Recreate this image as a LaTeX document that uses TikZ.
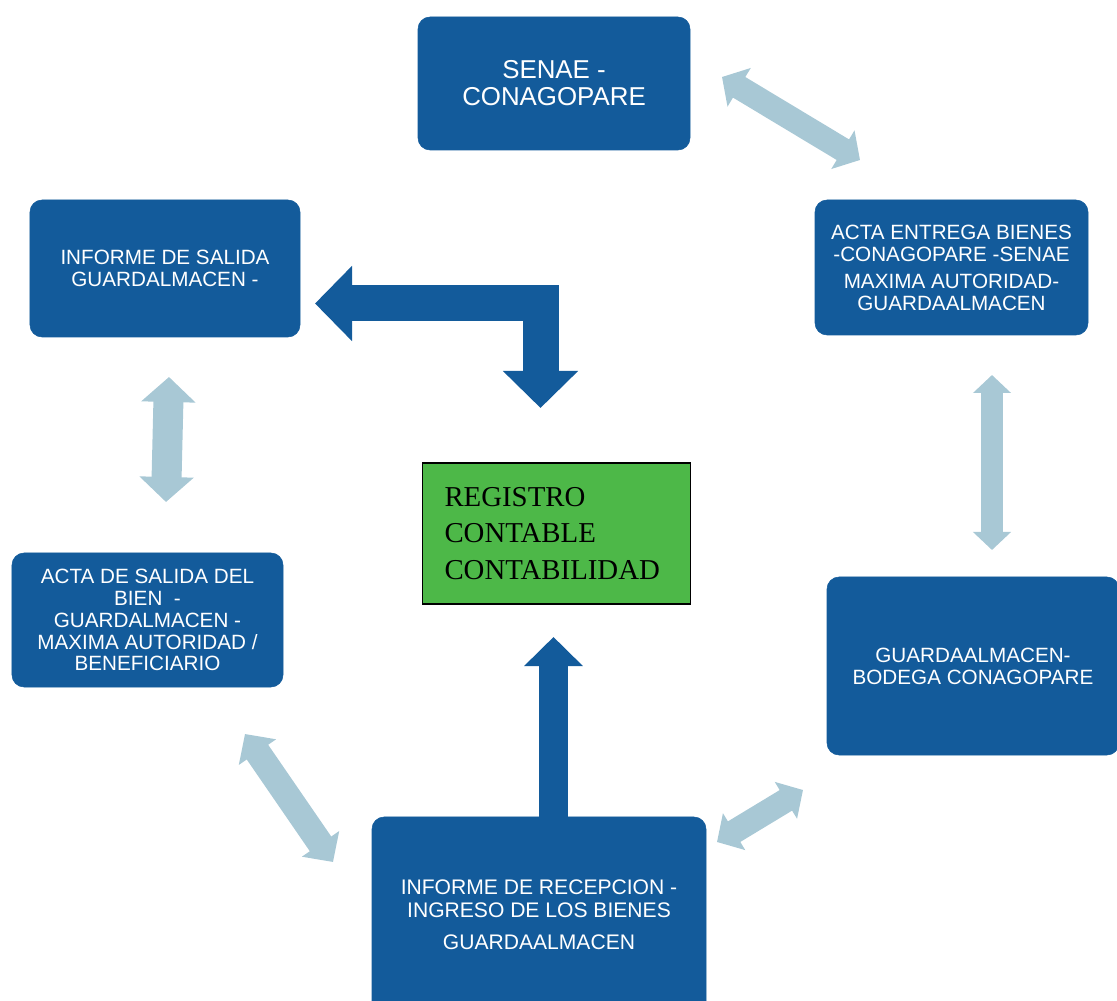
\documentclass[tikz,border=0pt]{standalone}
\usepackage{fontspec}
\setmainfont{Liberation Sans}
\newfontfamily\regfont{Liberation Serif}
\usetikzlibrary{arrows.meta,calc}
\definecolor{boxblue}{HTML}{135B9B}
\definecolor{paleblue}{HTML}{A8C8D5}
\definecolor{regreen}{HTML}{4DB848}

\begin{document}
\begin{tikzpicture}[
      x=0.25mm, y=-0.25mm,
      pbox/.style={
        draw=boxblue,
        fill=boxblue,
        text=white,
        rounded corners=3mm,
        align=center,
        inner sep=1mm,
        font=\fontsize{14.7}{15.6}\selectfont
      },
      regbox/.style={
        draw=black,
        line width=0.8pt,
        fill=regreen,
        align=left,
        text width=56mm,
        inner xsep=5.6mm,
        minimum height=35.25mm,
        font=\regfont\fontsize{20.5}{26}\selectfont
      },
      pale/.style={
        paleblue,
        <->
      },
      dark/.style={
        boxblue
      }
    ]

    \useasboundingbox (0,0) rectangle (1117,1001);

    % boxes round the cycle
    \node[pbox,minimum width=68mm,minimum height=33.25mm,
      font=\fontsize{18.4}{19.2}\selectfont] (senae) at (554,83.5)
      {SENAE -\\CONAGOPARE};

    \node[pbox,minimum width=68.25mm,minimum height=33.75mm] (entrega) at (951.5,267.5)
      {ACTA ENTREGA BIENES\\-CONAGOPARE -SENAE\\[3.7pt]MAXIMA AUTORIDAD-\\GUARDAALMACEN};

    \node[pbox,minimum width=73mm,minimum height=44.5mm] (bodega) at (973,666)
      {GUARDAALMACEN-\\BODEGA CONAGOPARE};

    \node[pbox,minimum width=83.5mm,minimum height=49mm,
      font=\fontsize{15}{16.3}\selectfont] (recep) at (539,915)
      {INFORME DE RECEPCION -\\INGRESO DE LOS BIENES\\[6.4pt]GUARDAALMACEN};

    \node[pbox,minimum width=67.75mm,minimum height=33.5mm] (actasal) at (147.5,620)
      {ACTA DE SALIDA DEL\\BIEN\ \ -\\GUARDALMACEN -\\MAXIMA AUTORIDAD /\\BENEFICIARIO};

    \node[pbox,minimum width=67.5mm,minimum height=34.25mm] (salida) at (165,268.5)
      {INFORME DE SALIDA\\GUARDALMACEN -};

    \node[regbox] (registro) at (556.5,533.5)
      {REGISTRO\\CONTABLE\\CONTABILIDAD};

    % pale two-way arrows
    \coordinate (p1a) at (722,77);
    \coordinate (p1b) at (860,160);
    \coordinate (p2a) at (992,375);
    \coordinate (p2b) at (992,550);
    \coordinate (p3a) at (803,790);
    \coordinate (p3b) at (717,842);
    \coordinate (p4a) at (333,862);
    \coordinate (p4b) at (245,734);
    \coordinate (p5a) at (166,502);
    \coordinate (p5b) at (169,377);

    \draw[pale,line width=6mm,>={Triangle[length=5mm,width=11mm]}] (p1a) -- (p1b);
    \draw[pale,line width=5.5mm,>={Triangle[length=4.5mm,width=9.25mm]}] (p2a) -- (p2b);
    \draw[pale,line width=6mm,>={Triangle[length=5mm,width=10.5mm]}] (p3a) -- (p3b);
    \draw[pale,line width=6.5mm,>={Triangle[length=5.5mm,width=11mm]}] (p4a) -- (p4b);
    \draw[pale,line width=7.5mm,>={Triangle[length=6.25mm,width=13.25mm]}] (p5a) -- (p5b);

    % dark arrows into the register
    \coordinate (uptip) at (553.5,637);
    \draw[dark,line width=7.25mm,-{Triangle[length=7.25mm,width=14.25mm]}]
      (recep.north -| uptip) -- (uptip);

    \coordinate (lefttip) at (315,303.5);
    \coordinate (downtip) at (540.5,408);
    \draw[dark,line width=9mm,<->,>={Triangle[length=9.25mm,width=18.25mm]}]
      (lefttip) -| (downtip);

  \end{tikzpicture}
\end{document}
